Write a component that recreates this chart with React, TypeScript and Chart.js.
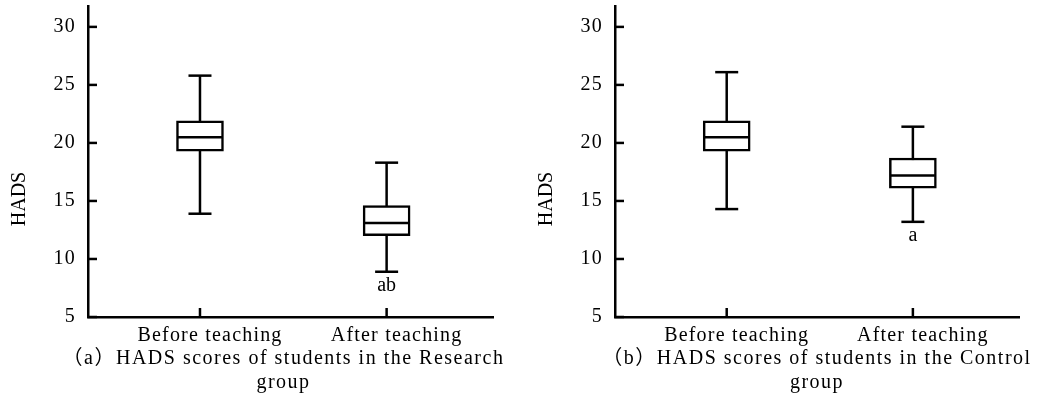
import React, { useEffect, useRef } from 'react';
import { Chart, registerables } from 'chart.js';

Chart.register(...registerables);

const categories = ['Before teaching', 'After teaching'];
const yTickValues = [5, 10, 15, 20, 25, 30];

const researchMin = [13.9, 8.9];
const researchQ1 = [19.3, 12.0];
const researchMedian = [20.5, 13.1];
const researchQ3 = [21.9, 14.6];
const researchMax = [25.8, 18.3];
const researchNotes = ['', 'ab'];
const researchCaption = ['（a）HADS scores of students in the Research', 'group'];

const controlMin = [14.3, 13.2];
const controlQ1 = [19.3, 16.1];
const controlMedian = [20.5, 17.2];
const controlQ3 = [21.9, 18.7];
const controlMax = [26.1, 21.4];
const controlNotes = ['', 'a'];
const controlCaption = ['（b）HADS scores of students in the Control', 'group'];

const yTitle = 'HADS';

const FONT = "'Liberation Serif', 'Times New Roman', 'Noto Sans CJK SC', serif";
const TICK_SPACING = '1.2px';
const CAPTION_SPACING = '1.5px';
const LW = 2.5;

const spacingPlugin = {
  id: 'spacing',
  beforeUpdate(chart: any) { chart.ctx.letterSpacing = TICK_SPACING; },
  beforeLayout(chart: any) { chart.ctx.letterSpacing = TICK_SPACING; },
  afterLayout(chart: any, _args: any, opts: any) {
    const tb = chart.titleBlock;
    const shift = (opts && opts.shift) || 0;
    if (tb) {
      tb.left += shift - 70;
      tb.right += shift + 70;
    }
  },
  beforeDraw(chart: any) { chart.ctx.letterSpacing = CAPTION_SPACING; },
  beforeDatasetsDraw(chart: any) { chart.ctx.letterSpacing = TICK_SPACING; },
};

const decorPlugin = {
  id: 'decor',
  afterDraw(chart: any, _args: any, opts: any) {
    const { ctx, chartArea } = chart;
    const xs = chart.scales.x;
    const ys = chart.scales.y;
    ctx.save();
    ctx.strokeStyle = '#000';
    ctx.lineWidth = LW;
    ys.ticks.forEach((t: any) => {
      const py = ys.getPixelForValue(t.value);
      ctx.beginPath();
      ctx.moveTo(chartArea.left, py);
      ctx.lineTo(chartArea.left + 9, py);
      ctx.stroke();
    });
    xs.ticks.forEach((t: any) => {
      const px = xs.getPixelForValue(t.value);
      ctx.beginPath();
      ctx.moveTo(px, chartArea.bottom);
      ctx.lineTo(px, chartArea.bottom - 9);
      ctx.stroke();
    });
    ctx.font = `20px ${FONT}`;
    ctx.fillStyle = '#000';
    ctx.textAlign = 'center';
    ctx.textBaseline = 'alphabetic';
    ctx.letterSpacing = '0px';
    (opts.notes || []).forEach((n: string, i: number) => {
      if (!n) return;
      ctx.fillText(n, xs.getPixelForValue(i), ys.getPixelForValue(opts.mins[i]) + 19);
    });
    ctx.translate(20, 199);
    ctx.rotate(-Math.PI / 2);
    ctx.textBaseline = 'middle';
    ctx.fillText(opts.title, 0, 0);
    ctx.restore();
  },
};

type PanelProps = {
  left: number;
  width: number;
  padRight: number;
  captionShift: number;
  mins: number[];
  q1: number[];
  medians: number[];
  q3: number[];
  maxs: number[];
  notes: string[];
  caption: string[];
};

function Panel(p: PanelProps) {
  const ref = useRef<HTMLCanvasElement | null>(null);
  useEffect(() => {
    if (!ref.current) return;
    const whiskers = categories.map((_, i) => ({
      type: 'line',
      data: [{ x: i, y: p.mins[i] }, { x: i, y: p.maxs[i] }],
      borderColor: '#000',
      borderWidth: LW,
      pointRadius: 0,
      fill: false,
      order: 3,
    }));
    const chart = new Chart(ref.current, {
      type: 'bar',
      data: {
        datasets: [
          {
            type: 'bar',
            data: categories.map((_, i) => ({ x: i, y: [p.q1[i], p.q3[i]] })),
            backgroundColor: '#fff',
            borderColor: '#000',
            borderWidth: LW,
            borderSkipped: false,
            barThickness: 47,
            order: 1,
          },
          {
            type: 'scatter',
            data: categories.map((_, i) => ({ x: i, y: p.medians[i] })),
            pointStyle: 'line',
            pointRadius: 22,
            borderWidth: LW,
            borderColor: '#000',
            order: 0,
          },
          {
            type: 'scatter',
            data: [
              ...categories.map((_, i) => ({ x: i, y: p.mins[i] })),
              ...categories.map((_, i) => ({ x: i, y: p.maxs[i] })),
            ],
            pointStyle: 'line',
            pointRadius: 11.5,
            borderWidth: LW,
            borderColor: '#000',
            order: 2,
          },
          ...whiskers,
        ] as any,
      },
      options: {
        responsive: false,
        maintainAspectRatio: false,
        animation: false,
        events: [],
        layout: { autoPadding: false, padding: { left: 0, top: 6, right: p.padRight, bottom: 0 } },
        font: { family: FONT, size: 20 },
        color: '#000',
        scales: {
          x: {
            type: 'linear',
            min: -0.6,
            max: 1.57,
            offset: false,
            grid: { display: false, drawTicks: false },
            border: { display: true, color: '#000', width: LW },
            afterBuildTicks: (scale: any) => {
              scale.ticks = categories.map((_, i) => ({ value: i }));
            },
            afterFit: (scale: any) => {
              scale.height = 30;
              scale.paddingLeft = 0;
              scale.paddingRight = 0;
            },
            ticks: {
              z: 1,
              autoSkip: false,
              maxRotation: 0,
              padding: 7,
              labelOffset: 10,
              color: '#000',
              font: { family: FONT, size: 20 },
              callback: (v: any) => categories[v as number] ?? '',
            },
          },
          y: {
            type: 'linear',
            min: 5,
            max: 31.8,
            grid: { display: false, drawTicks: false },
            border: { display: true, color: '#000', width: LW },
            afterBuildTicks: (scale: any) => {
              scale.ticks = yTickValues.map((v) => ({ value: v }));
            },
            afterFit: (scale: any) => {
              scale.width = 88;
              scale.paddingTop = 0;
              scale.paddingBottom = 0;
            },
            ticks: {
              z: 1,
              padding: 12,
              color: '#000',
              font: { family: FONT, size: 20 },
              callback: (v: any) => String(v),
            },
          },
        },
        plugins: {
          legend: { display: false },
          tooltip: { enabled: false },
          title: {
            display: true,
            text: p.caption,
            position: 'bottom',
            fullSize: false,
            color: '#000',
            font: { family: FONT, size: 20, weight: 'normal', lineHeight: 1.2 },
            padding: { top: 0, bottom: 3 },
          },
          spacing: { shift: p.captionShift },
          decor: { notes: p.notes, mins: p.mins, title: yTitle },
        } as any,
      },
      plugins: [spacingPlugin, decorPlugin],
    } as any);
    return () => chart.destroy();
  }, []);
  return (
    <canvas
      ref={ref}
      width={p.width}
      height={398}
      style={{ position: 'absolute', left: p.left, top: 0, width: p.width, height: 398, display: 'block' }}
    />
  );
}

export default function App() {
  return (
    <div style={{ position: 'absolute', left: 0, top: 0, width: 1040, height: 398, background: '#fff' }}>
      <Panel left={0} width={520} padRight={27} captionShift={-7} mins={researchMin} q1={researchQ1}
        medians={researchMedian} q3={researchQ3} maxs={researchMax} notes={researchNotes} caption={researchCaption} />
      <Panel left={527} width={513} padRight={21} captionShift={0} mins={controlMin} q1={controlQ1}
        medians={controlMedian} q3={controlQ3} maxs={controlMax} notes={controlNotes} caption={controlCaption} />
    </div>
  );
}
